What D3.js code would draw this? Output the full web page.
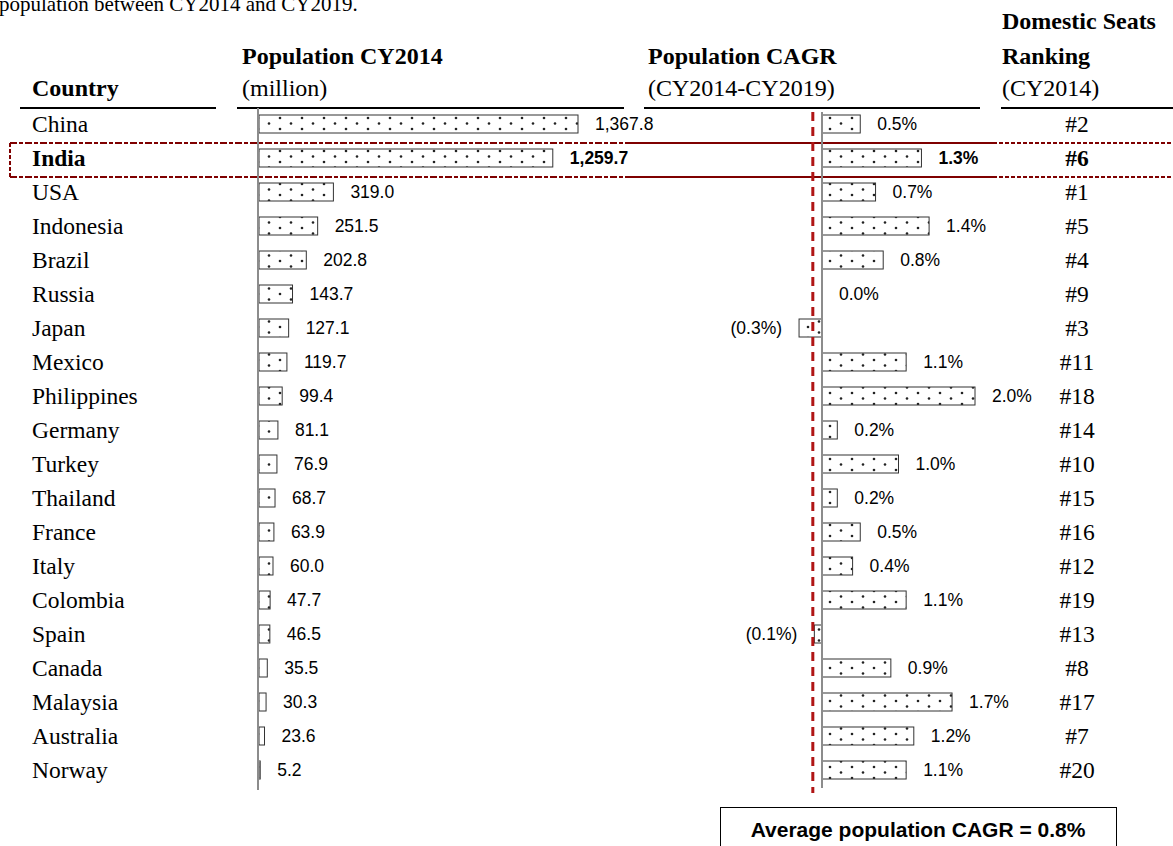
<!DOCTYPE html>
<html>
<head>
<meta charset="utf-8">
<script src="https://cdn.jsdelivr.net/npm/d3@7"></script>
<style>
  html, body { margin: 0; padding: 0; background: #fff; }
  svg { display: block; }
</style>
</head>
<body>
<script>
// ---- data ----
const countries = ["China","India","USA","Indonesia","Brazil","Russia","Japan","Mexico","Philippines","Germany","Turkey","Thailand","France","Italy","Colombia","Spain","Canada","Malaysia","Australia","Norway"];
const population = [1367.8,1259.7,319.0,251.5,202.8,143.7,127.1,119.7,99.4,81.1,76.9,68.7,63.9,60.0,47.7,46.5,35.5,30.3,23.6,5.2];
const cagr = [0.5,1.3,0.7,1.4,0.8,0.0,-0.3,1.1,2.0,0.2,1.0,0.2,0.5,0.4,1.1,-0.1,0.9,1.7,1.2,1.1];
const ranks = ["#2","#6","#1","#5","#4","#9","#3","#11","#18","#14","#10","#15","#16","#12","#19","#13","#8","#17","#7","#20"];
const highlight = "India";
const averageCagr = 0.8;
const refLineValue = -0.12;
const titleText = "population between CY2014 and CY2019.";

const W = 1173, H = 846;
const serif = "'Liberation Serif','Times New Roman',serif";
const sans = "'Liberation Sans',Arial,sans-serif";
const darkRed = "#7f0000";

const svg = d3.select("body").append("svg").attr("width", W).attr("height", H);

// dotted pattern
const defs = svg.append("defs");
const pat = defs.append("pattern").attr("id","dots").attr("patternUnits","userSpaceOnUse")
  .attr("width", 22).attr("height", 11);
pat.append("rect").attr("width",22).attr("height",11).attr("fill","#fff");
[[5,2.5],[16,8]].forEach(([cx,cy]) => pat.append("circle").attr("cx",cx).attr("cy",cy).attr("r",1.3).attr("fill","#222"));

// scales
const y = d3.scaleBand().domain(countries).range([107, 787]);
const xPop = d3.scaleLinear().domain([0, 1367.8]).range([259, 578]);
const xCagr = d3.scaleLinear().domain([0, 2.0]).range([822, 975]);
const barH = 18;
const cy = d => y(d) + y.bandwidth()/2;

// title (cut off at top)
svg.append("text").attr("x", -1).attr("y", 11).attr("font-family", serif).attr("font-size", 21)
  .attr("fill","#000").text(titleText);

// headers
const hdr = svg.append("g").attr("font-family", serif).attr("font-size", 24).attr("fill","#000");
function htext(x, yy, t, bold) {
  hdr.append("text").attr("x", x).attr("y", yy).attr("font-weight", bold ? "bold" : "normal").text(t);
}
htext(32, 96, "Country", true);
htext(242, 64, "Population CY2014", true);
htext(242, 96, "(million)", false);
htext(648, 64, "Population CAGR", true);
htext(648, 96, "(CY2014-CY2019)", false);
htext(1002, 29, "Domestic Seats", true);
htext(1002, 64, "Ranking", true);
htext(1002, 96, "(CY2014)", false);

// underlines
[[20,216],[237,624],[644,980],[1001,1173]].forEach(([a,b]) =>
  svg.append("line").attr("x1",a).attr("x2",b).attr("y1",108).attr("y2",108)
    .attr("stroke","#000").attr("stroke-width",2.2));

// highlight box around India row
const hTop = y(highlight) + 2, hBot = y(highlight) + y.bandwidth() + 2;
const hl = svg.append("g").attr("stroke", darkRed).attr("stroke-width", 2).attr("fill","none");
[hTop, hBot].forEach(yy => {
  hl.append("line").attr("x1",10).attr("x2",630).attr("y1",yy).attr("y2",yy).attr("stroke-dasharray","7,2,4,2");
  hl.append("line").attr("x1",630).attr("x2",993).attr("y1",yy).attr("y2",yy);
  hl.append("line").attr("x1",993).attr("x2",1173).attr("y1",yy).attr("y2",yy).attr("stroke-dasharray","4,2");
});
hl.append("line").attr("x1",10).attr("x2",10).attr("y1",hTop).attr("y2",hBot).attr("stroke-dasharray","4,2");

// country labels
svg.append("g").selectAll("text").data(countries).join("text")
  .attr("x", 32).attr("y", d => cy(d) + 7.5)
  .attr("font-family", serif).attr("font-size", 23.5)
  .attr("font-weight", d => d === highlight ? "bold" : "normal")
  .text(d => d);

// population bars
const popG = svg.append("g");
popG.selectAll("rect").data(countries).join("rect")
  .attr("x", xPop(0)).attr("y", d => cy(d) - barH/2)
  .attr("width", (d,i) => xPop(population[i]) - xPop(0)).attr("height", barH)
  .attr("fill","url(#dots)").attr("stroke","#333").attr("stroke-width",1);
popG.selectAll("text").data(countries).join("text")
  .attr("x", (d,i) => xPop(population[i]) + 17).attr("y", d => cy(d) + 6)
  .attr("font-family", sans).attr("font-size", 17.5)
  .attr("font-weight", d => d === highlight ? "bold" : "normal")
  .text((d,i) => d3.format(",.1f")(population[i]));
svg.append("line").attr("x1", xPop(0)-1).attr("x2", xPop(0)-1).attr("y1", 108).attr("y2", 790)
  .attr("stroke","#8c8c8c").attr("stroke-width",2);

// CAGR bars
const cG = svg.append("g");
cG.selectAll("rect").data(countries).join("rect")
  .attr("x", (d,i) => Math.min(xCagr(0), xCagr(cagr[i]))).attr("y", d => cy(d) - barH/2)
  .attr("width", (d,i) => Math.abs(xCagr(cagr[i]) - xCagr(0))).attr("height", barH)
  .attr("fill","url(#dots)").attr("stroke","#333").attr("stroke-width",1);
const fmtPct = v => v < 0 ? "(" + d3.format(".1f")(-v) + "%)" : d3.format(".1f")(v) + "%";
cG.selectAll("text").data(countries).join("text")
  .attr("x", (d,i) => cagr[i] < 0 ? xCagr(cagr[i]) - 17 : xCagr(cagr[i]) + 17)
  .attr("text-anchor", (d,i) => cagr[i] < 0 ? "end" : "start")
  .attr("y", d => cy(d) + 6)
  .attr("font-family", sans).attr("font-size", 17.5)
  .attr("font-weight", d => d === highlight ? "bold" : "normal")
  .text((d,i) => fmtPct(cagr[i]));
svg.append("line").attr("x1", xCagr(0)).attr("x2", xCagr(0)).attr("y1", 112).attr("y2", 788)
  .attr("stroke","#8c8c8c").attr("stroke-width",2);
svg.append("line").attr("x1", xCagr(refLineValue)).attr("x2", xCagr(refLineValue)).attr("y1", 112).attr("y2", 793)
  .attr("stroke","#b01515").attr("stroke-width",3).attr("stroke-dasharray","9,6");

// ranking
svg.append("g").selectAll("text").data(countries).join("text")
  .attr("x", 1077).attr("y", d => cy(d) + 7.5).attr("text-anchor","middle")
  .attr("font-family", serif).attr("font-size", 23.5)
  .attr("font-weight", d => d === highlight ? "bold" : "normal")
  .text((d,i) => ranks[i]);

// average box
svg.append("rect").attr("x", 720.5).attr("y", 807.5).attr("width", 396).attr("height", 60)
  .attr("fill","#fff").attr("stroke","#000").attr("stroke-width",1);
svg.append("text").attr("x", 918).attr("y", 837).attr("text-anchor","middle")
  .attr("font-family", sans).attr("font-size", 21).attr("font-weight","bold")
  .text("Average population CAGR = " + d3.format(".1f")(averageCagr) + "%");
</script>
</body>
</html>
